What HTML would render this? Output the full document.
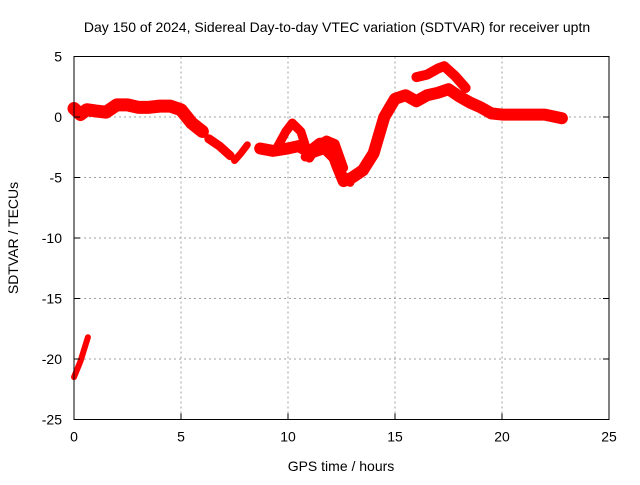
<!DOCTYPE html>
<html><head><meta charset="utf-8"><style>
body{margin:0;background:#fff;font-family:"Liberation Sans",sans-serif}
svg text{font-family:"Liberation Sans",sans-serif;font-size:14px;fill:#000}
</style></head><body>
<svg id="chart" width="640" height="480">
<text x="337" y="32" text-anchor="middle">Day 150 of 2024, Sidereal Day-to-day VTEC variation (SDTVAR) for receiver uptn</text>
<g id="grid"></g><g id="data"></g><g id="axes"></g>
<text x="341" y="471" text-anchor="middle">GPS time / hours</text>
<text transform="translate(18,238) rotate(-90)" text-anchor="middle">SDTVAR / TECUs</text>
</svg>
<script>
const xTicks=[0,5,10,15,20,25];
const yTicks=[5,0,-5,-10,-15,-20,-25];
const seriesMainT=[0,0.3,0.6,1,1.5,2,2.5,3,3.5,4,4.5,5,5.5,6];
const seriesMainV=[0.7,0.2,0.6,0.5,0.4,1.0,1.0,0.8,0.8,0.9,0.9,0.6,-0.5,-1.2];
const seriesB_T=[6.3,6.8,7.3];
const seriesB_V=[-1.8,-2.4,-3.2];
const seriesC_T=[7.5,7.8,8.1];
const seriesC_V=[-3.6,-3.0,-2.3];
const seriesD_T=[8.7,9.3,10,10.5,11,11.5,12,12.3,12.6,13,13.5,14,14.5,15,15.5,16,16.5,17,17.5,18,18.5,19,19.5,20,21,22,22.8];
const seriesD_V=[-2.6,-2.8,-2.6,-2.4,-2.9,-2.2,-2.5,-4,-5.3,-5.0,-4.4,-3.0,0,1.5,1.8,1.3,1.8,2.0,2.3,1.7,1.2,0.8,0.3,0.2,0.2,0.2,-0.1];
const seriesE_T=[9.5,9.9,10.2,10.6,11,11.4,11.8,12.2,12.6];
const seriesE_V=[-2.5,-1.2,-0.5,-1.2,-3.4,-2.3,-1.9,-2.2,-4.2];
const seriesH_T=[10.8,11.2,11.7,12.1,12.5,12.9];
const seriesH_V=[-3.3,-3.0,-2.7,-3.4,-4.8,-5.4];
const seriesF_T=[16,16.5,17,17.3,17.8,18.3];
const seriesF_V=[3.3,3.5,4.0,4.2,3.4,2.4];
const seriesG_T=[0,0.3,0.65];
const seriesG_V=[-21.5,-20.2,-18.2];
const X0=74,X1=609,Y0=56.5,Y1=419.5;
const sx=t=>X0+(t-0)/(25-0)*(X1-X0);
const sy=v=>Y0+(5-v)/(5+25)*(Y1-Y0);
const NS="http://www.w3.org/2000/svg";
const mk=(tag,a,p)=>{const e=document.createElementNS(NS,tag);for(const k in a)e.setAttribute(k,a[k]);p.appendChild(e);return e;};
const grid=document.getElementById('grid'),axes=document.getElementById('axes'),data=document.getElementById('data');
xTicks.forEach(t=>{
 if(t>0&&t<25){const g=mk('line',{x1:sx(t),x2:sx(t),y1:Y0,y2:Y1,stroke:'#a0a0a0','stroke-dasharray':'2,3'},grid);
 }
 const tk=mk('line',{x1:sx(t),x2:sx(t),y1:Y1,y2:Y1-6,stroke:'#000'},axes);
 
 const tx=mk('text',{x:sx(t),y:Y1+22,'text-anchor':'middle'},axes);tx.textContent=t;
 
});
yTicks.forEach(v=>{
 if(v<5&&v>-25){const g=mk('line',{x1:X0,x2:X1,y1:sy(v),y2:sy(v),stroke:'#a0a0a0','stroke-dasharray':'2,3'},grid);
 }
 const tk=mk('line',{x1:X0,x2:X0+6,y1:sy(v),y2:sy(v),stroke:'#000'},axes);
 
 const tk2=mk('line',{x1:X1,x2:X1-6,y1:sy(v),y2:sy(v),stroke:'#000'},axes);
 
 const tx=mk('text',{x:X0-12,y:sy(v)+5,'text-anchor':'end'},axes);tx.textContent=v;
 
});
const fr=mk('rect',{x:X0,y:Y0,width:X1-X0,height:Y1-Y0,fill:'none',stroke:'#000'},axes);

[[seriesMainT,seriesMainV,13],[seriesB_T,seriesB_V,9],[seriesC_T,seriesC_V,7],[seriesD_T,seriesD_V,12],[seriesE_T,seriesE_V,9],[seriesH_T,seriesH_V,9],[seriesF_T,seriesF_V,10],[seriesG_T,seriesG_V,6]].forEach(([T,V,w])=>{
 const pts=T.map((t,i)=>sx(t)+','+sy(V[i])).join(' ');
 const p=mk('polyline',{points:pts,fill:'none',stroke:'#ff0000','stroke-width':w,'stroke-linejoin':'round','stroke-linecap':'round'},data);
 
});
</script>
</body></html>
